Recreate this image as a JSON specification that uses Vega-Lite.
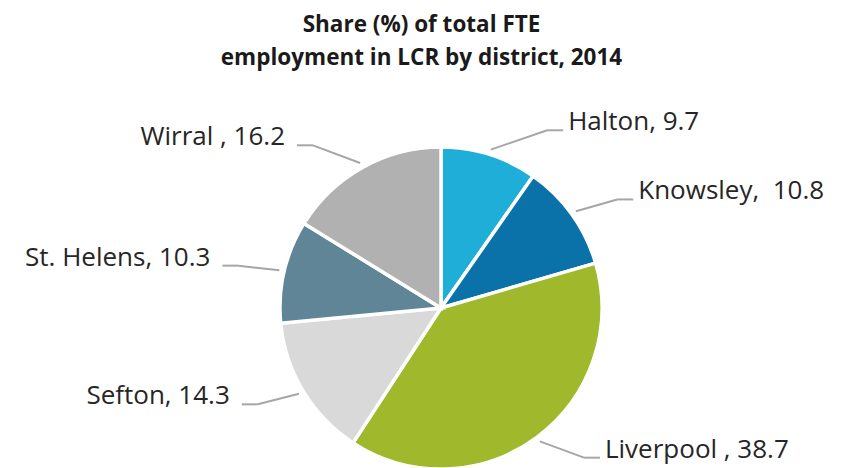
{
  "$schema": "https://vega.github.io/schema/vega-lite/v6.json",
  "width": 855,
  "height": 388,
  "autosize": {"type": "none"},
  "padding": {"top": 80, "left": 0, "right": 0, "bottom": 0},
  "background": "white",
  "view": {"stroke": null},
  "title": {
    "text": ["Share (%) of total FTE", "employment in LCR by district, 2014"],
    "font": "Open Sans",
    "fontSize": 22.5,
    "fontWeight": "bold",
    "color": "#1a1a1a",
    "lineHeight": 33,
    "anchor": "middle",
    "frame": "group",
    "dx": -6,
    "offset": 11
  },
  "data": {
    "values": [
      {"district": "Halton", "share": 9.7, "label": "Halton, 9.7"},
      {"district": "Knowsley", "share": 10.8, "label": "Knowsley,\u00a0 10.8"},
      {"district": "Liverpool", "share": 38.7, "label": "Liverpool , 38.7"},
      {"district": "Sefton", "share": 14.3, "label": "Sefton, 14.3"},
      {"district": "St. Helens", "share": 10.3, "label": "St. Helens, 10.3"},
      {"district": "Wirral", "share": 16.2, "label": "Wirral , 16.2"}
    ]
  },
  "layer": [
    {
      "mark": {"type": "arc", "outerRadius": 161, "stroke": "white", "strokeWidth": 3.5},
      "encoding": {
        "theta": {"field": "share", "type": "quantitative", "stack": true},
        "color": {
          "field": "district",
          "type": "nominal",
          "scale": {
            "domain": ["Halton", "Knowsley", "Liverpool", "Sefton", "St. Helens", "Wirral"],
            "range": ["#1EAED7", "#0A72A8", "#A0B92C", "#D9D9D9", "#5F8596", "#B1B1B1"]
          },
          "legend": null
        },
        "x": {"datum": 0, "type": "quantitative", "scale": {"domain": [-441, 414], "nice": false, "zero": false}, "axis": null},
        "y": {"datum": 0, "type": "quantitative", "scale": {"domain": [-160, 228], "nice": false, "zero": false}, "axis": null}
      }
    },
    {
      "transform": [
        {"window": [{"op": "sum", "field": "share", "as": "cum"}], "sort": [{"field": "district"}], "frame": [null, 0]},
        {"calculate": "(datum.cum - datum.share / 2) / 100 * 2 * PI", "as": "ang"},
        {"calculate": "sin(datum.ang) > 0 ? 1 : -1", "as": "side"},
        {"calculate": "166 * sin(datum.ang)", "as": "sx"},
        {"calculate": "166 * cos(datum.ang)", "as": "sy"},
        {"calculate": "0.9 * 207 * cos(datum.ang)", "as": "ey"},
        {"calculate": "datum.side * sqrt(207 * 207 - datum.ey * datum.ey)", "as": "ex"},
        {"calculate": "datum.ex + datum.side * 16", "as": "hx"}
      ],
      "layer": [
        {
          "mark": {"type": "rule", "color": "#A6A6A6", "strokeWidth": 2},
          "encoding": {
            "x": {"field": "sx", "type": "quantitative", "scale": {"domain": [-441, 414], "nice": false, "zero": false}, "axis": null},
            "y": {"field": "sy", "type": "quantitative", "scale": {"domain": [-160, 228], "nice": false, "zero": false}, "axis": null},
            "x2": {"field": "ex"},
            "y2": {"field": "ey"}
          }
        },
        {
          "mark": {"type": "rule", "color": "#A6A6A6", "strokeWidth": 2},
          "encoding": {
            "x": {"field": "ex", "type": "quantitative"},
            "y": {"field": "ey", "type": "quantitative"},
            "x2": {"field": "hx"},
            "y2": {"field": "ey"}
          }
        },
        {
          "transform": [{"filter": "datum.side > 0"}],
          "mark": {"type": "text", "align": "left", "baseline": "alphabetic", "dx": 5, "font": "Open Sans", "fontWeight": 400, "fontSize": 26, "color": "#262626"},
          "encoding": {
            "x": {"field": "hx", "type": "quantitative"},
            "y": {"field": "ey", "type": "quantitative"},
            "text": {"field": "label"}
          }
        },
        {
          "transform": [{"filter": "datum.side < 0"}],
          "mark": {"type": "text", "align": "right", "baseline": "alphabetic", "dx": -12, "font": "Open Sans", "fontWeight": 400, "fontSize": 26, "color": "#262626"},
          "encoding": {
            "x": {"field": "hx", "type": "quantitative"},
            "y": {"field": "ey", "type": "quantitative"},
            "text": {"field": "label"}
          }
        }
      ]
    }
  ]
}
